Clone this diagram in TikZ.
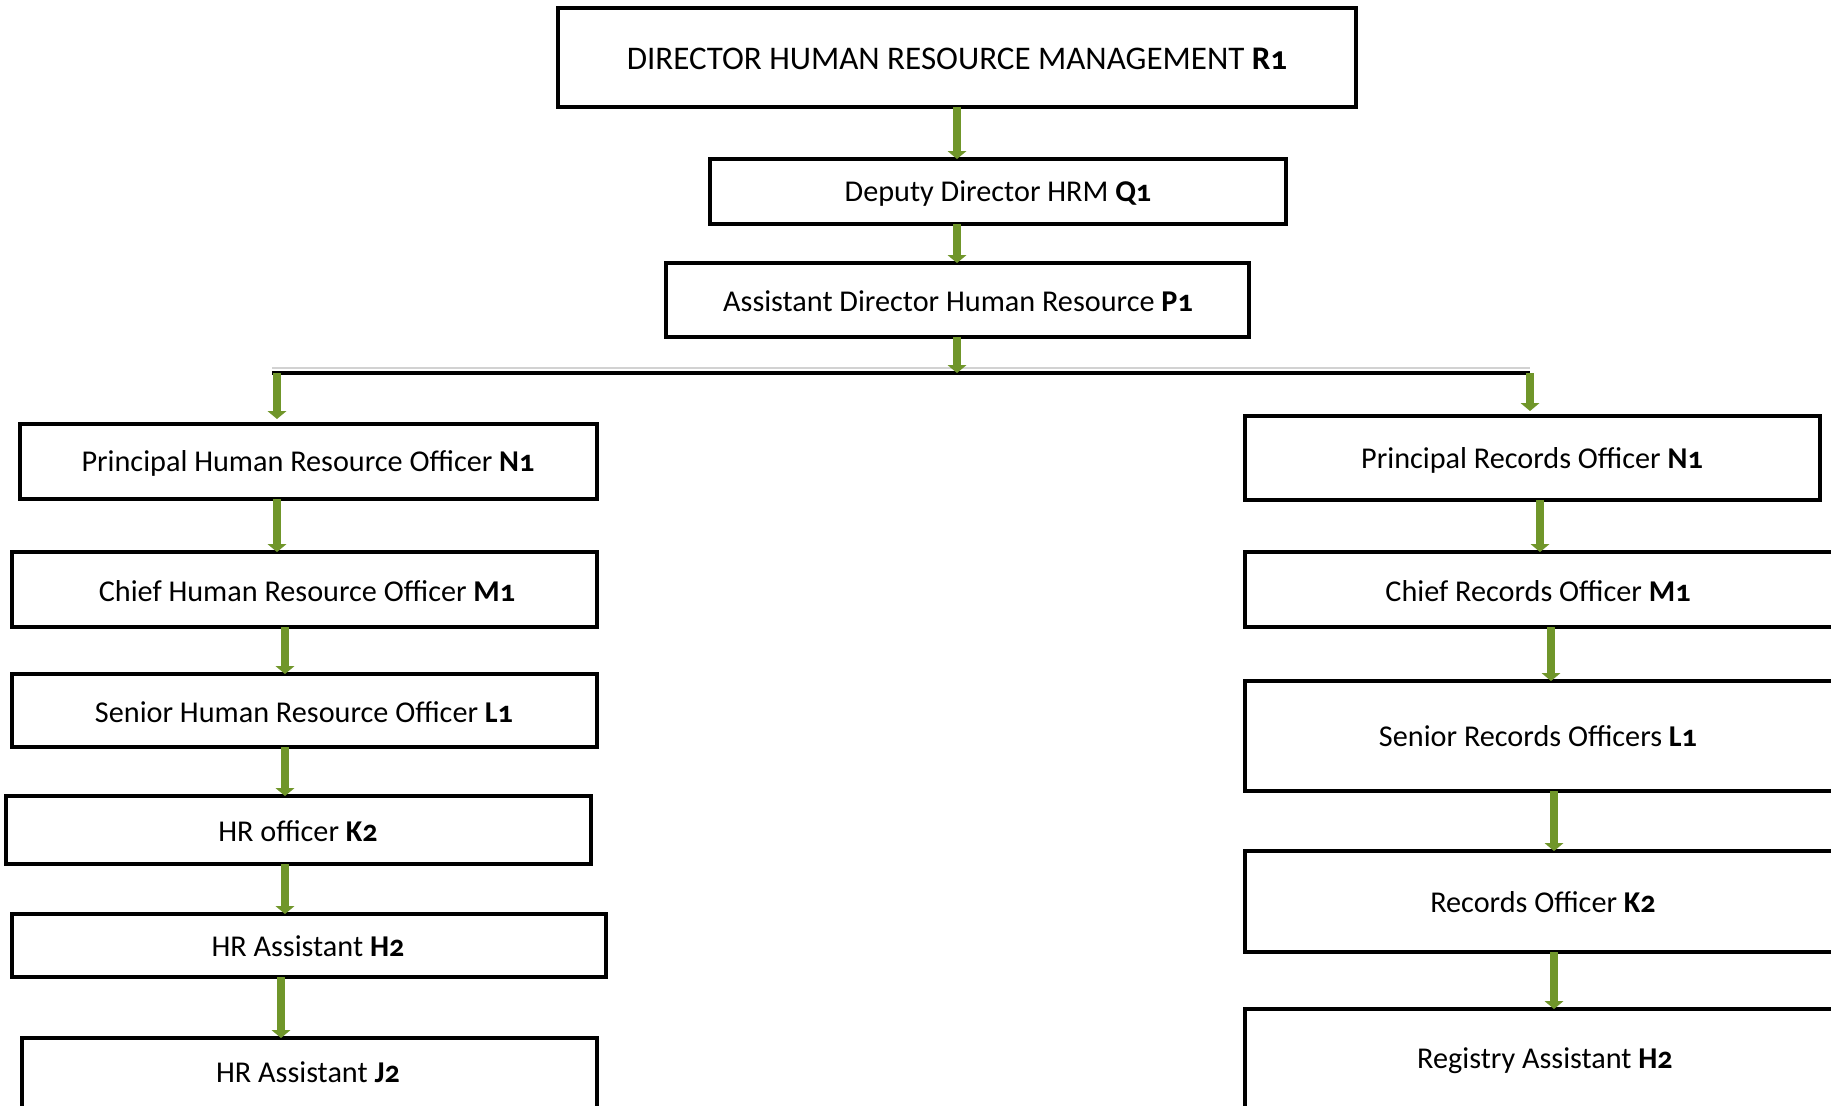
\documentclass[tikz,border=0pt]{standalone}
\usepackage{fontspec}
\setmainfont{Carlito}[Numbers=OldStyle]
\usetikzlibrary{arrows.meta,positioning,fit}
\definecolor{arrgreen}{RGB}{112,150,42}
\tikzset{
  box/.style={draw=black, line width=2.3pt, inner sep=0pt, outer sep=0pt, fill=white},
  lbl/.style={inner sep=0pt, font=\fontsize{17.2}{20}\selectfont, text=black},
  toplbl/.style={inner sep=0pt, font=\fontsize{18.8}{22}\selectfont, text=black},
  arr/.style={draw=arrgreen, line width=4.8pt, -{Triangle[width=10.5pt,length=4.5pt]}, shorten >=0pt},
  bar/.style={draw=black, line width=2.8pt}
}
\begin{document}
\begin{tikzpicture}[x=0.02cm,y=-0.02cm]
\useasboundingbox (0,0) rectangle (1831,1105);
\clip (0,0) rectangle (1831,1105);
\fill[white] (0,0) rectangle (1831,1105);
% boxes
\node[box, fit={(558,8) (1356,107)}] (top) {};
\node[box, fit={(710,159) (1286,224)}] (dep) {};
\node[box, fit={(666,263) (1249,337)}] (asst) {};
\node[box, fit={(20,424) (597,499)}] (l1) {};
\node[box, fit={(12,552) (597,627)}] (l2) {};
\node[box, fit={(12,674) (597,747)}] (l3) {};
\node[box, fit={(6,796) (591,864)}] (l4) {};
\node[box, fit={(12,914) (606,977)}] (l5) {};
\node[box, fit={(22,1038) (597,1112)}] (l6) {};
\node[box, fit={(1245,416) (1820,500)}] (r1) {};
\node[box, fit={(1245,552) (1836,627)}] (r2) {};
\node[box, fit={(1245,681) (1836,791)}] (r3) {};
\node[box, fit={(1245,851) (1836,952)}] (r4) {};
\node[box, fit={(1245,1009) (1836,1112)}] (r5) {};
% texts
\node[toplbl] (ttop) at (957,59) {DIRECTOR HUMAN RESOURCE MANAGEMENT \textbf{R1}};
\node[lbl] (tdep) at (998,194) {Deputy Director HRM \textbf{Q1}};
\node[lbl] (tasst) at (958,301) {Assistant Director Human Resource \textbf{P1}};
\node[lbl] (tl1) at (308,463) {Principal Human Resource Officer \textbf{N1}};
\node[lbl] (tl2) at (307,591) {Chief Human Resource Officer \textbf{M1}};
\node[lbl] (tl3) at (304,712) {Senior Human Resource Officer \textbf{L1}};
\node[lbl] (tl4) at (298,831) {HR officer \textbf{K2}};
\node[lbl] (tl5) at (308,946) {HR Assistant \textbf{H2}};
\node[lbl] (tl6) at (308,1072) {HR Assistant \textbf{J2}};
\node[lbl] (tr1) at (1532,460) {Principal Records Officer \textbf{N1}};
\node[lbl] (tr2) at (1538,591) {Chief Records Officer \textbf{M1}};
\node[lbl] (tr3) at (1538,736) {Senior Records Officers \textbf{L1}};
\node[lbl] (tr4) at (1543,902) {Records Officer \textbf{K2}};
\node[lbl] (tr5) at (1545,1061) {Registry Assistant \textbf{H2}};
% bar
\coordinate (barL) at (272,373);
\coordinate (barR) at (1530,373);
\coordinate (barM) at (957,373);
\draw[gray!35, line width=0.8pt] (272,368) -- (1530,368);
\draw[bar] (barL) -- (barR);
% x positions
\coordinate (xc) at (957,0);
\coordinate (xa) at (277,0);
\coordinate (xb) at (285,0);
\coordinate (xd) at (281,0);
\coordinate (xr0) at (1530,0);
\coordinate (xr1) at (1540,0);
\coordinate (xr2) at (1551,0);
\coordinate (xr3) at (1554,0);
% arrows
\draw[arr] (top.south -| xc) -- (dep.north -| xc);
\draw[arr] (dep.south -| xc) -- (asst.north -| xc);
\draw[arr] (asst.south -| xc) -- (barM);
\draw[arr] (barL -| xa) -- ([yshift=0.1cm]l1.north -| xa);
\draw[arr] (l1.south -| xa) -- (l2.north -| xa);
\draw[arr] (l2.south -| xb) -- (l3.north -| xb);
\draw[arr] (l3.south -| xb) -- (l4.north -| xb);
\draw[arr] (l4.south -| xb) -- (l5.north -| xb);
\draw[arr] (l5.south -| xd) -- (l6.north -| xd);
\draw[arr] (barR) -- ([yshift=0.1cm]r1.north -| xr0);
\draw[arr] (r1.south -| xr1) -- (r2.north -| xr1);
\draw[arr] (r2.south -| xr2) -- (r3.north -| xr2);
\draw[arr] (r3.south -| xr3) -- (r4.north -| xr3);
\draw[arr] (r4.south -| xr3) -- (r5.north -| xr3);
\end{tikzpicture}
\end{document}
